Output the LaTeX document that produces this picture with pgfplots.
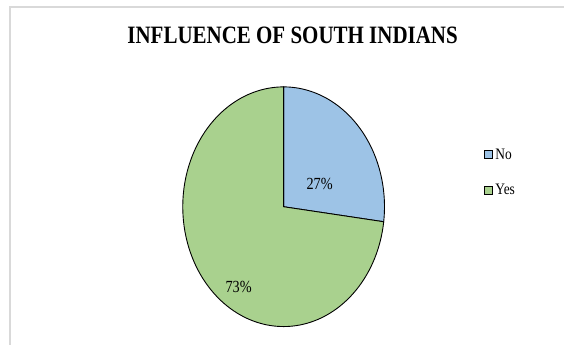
\documentclass[border=0pt]{standalone}
\usepackage{pgfplots}
\pgfplotsset{compat=1.18}
\usepackage{fontspec}
\setmainfont{Liberation Serif}
\definecolor{pieNo}{HTML}{9DC3E6}
\definecolor{pieYes}{HTML}{A9D18E}
\definecolor{frame}{HTML}{D9D9D9}
% data (percent)
\def\valNo{27}
\def\valYes{73}
% geometry in pixel units
\def\cx{284}
\def\cy{138}
\def\rx{101}
\def\ry{120}
\begin{document}
\begin{tikzpicture}
\begin{axis}[
  hide axis, scale only axis, clip=false,
  width=565bp, height=345bp,
  xmin=0, xmax=565, ymin=0, ymax=345,
  legend style={draw=none, fill=none, at={(axis description cs:0.858,0.575)}, anchor=north west,
    row sep=20bp, inner sep=0pt, font=\fontsize{16bp}{18bp}\selectfont},
  legend cell align=left,
  legend image code/.code={\draw[#1, draw=black, line width=1.1pt] (0bp,-4bp) rectangle (8bp,4bp);},
]
\path (axis cs:0,0) rectangle (axis cs:565,345);
\draw[frame, line width=1.5bp] (axis cs:10,0) -- (axis cs:10,338) -- (axis cs:565,338);
\addplot[fill=pieNo, draw=black, line width=0.9pt, domain=0:\valNo, samples=80]
  ({\cx+\rx*sin(3.6*x)}, {\cy+\ry*cos(3.6*x)}) -- (axis cs:\cx,\cy) -- cycle;
\addlegendentry{\scalebox{0.84}[1]{No}}
\addplot[fill=pieYes, draw=black, line width=0.9pt, domain=\valNo:100, samples=160]
  ({\cx+\rx*sin(3.6*x)}, {\cy+\ry*cos(3.6*x)}) -- (axis cs:\cx,\cy) -- cycle;
\addlegendentry{\scalebox{0.84}[1]{Yes}}
\node at (axis cs:320,161) {\fontsize{17bp}{19bp}\selectfont\scalebox{0.84}[1]{27\%}};
\node at (axis cs:239,58) {\fontsize{17bp}{19bp}\selectfont\scalebox{0.84}[1]{73\%}};
\node at (axis cs:293,310) {\fontsize{25bp}{28bp}\selectfont\bfseries\scalebox{0.84}[1]{INFLUENCE OF SOUTH INDIANS}};
\end{axis}
\end{tikzpicture}
\end{document}
